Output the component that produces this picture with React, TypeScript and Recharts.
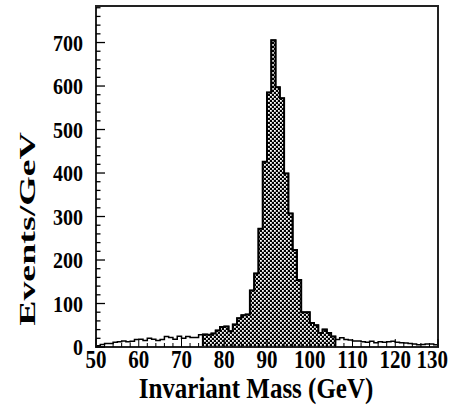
import React from 'react';
import { ComposedChart, Area, XAxis, YAxis, ReferenceArea } from 'recharts';

// Bin lower edges (GeV), 1 GeV bins from 50 to 130
const binEdges: number[] = [
  50, 51, 52, 53, 54, 55, 56, 57, 58, 59,
  60, 61, 62, 63, 64, 65, 66, 67, 68, 69,
  70, 71, 72, 73, 74, 75, 76, 77, 78, 79,
  80, 81, 82, 83, 84, 85, 86, 87, 88, 89,
  90, 91, 92, 93, 94, 95, 96, 97, 98, 99,
  100, 101, 102, 103, 104, 105, 106, 107, 108, 109,
  110, 111, 112, 113, 114, 115, 116, 117, 118, 119,
  120, 121, 122, 123, 124, 125, 126, 127, 128, 129,
];
const upperEdge = 130;

// Events/GeV for every bin (whole histogram)
const allEvents: number[] = [
  3, 6, 8, 8, 11, 12, 14, 12, 13, 17,
  18, 15, 20, 18, 15, 17, 24, 22, 18, 25,
  20, 24, 22, 22, 28, 29, 28, 31, 38, 46,
  47, 36, 52, 66, 73, 75, 130, 169, 272, 426,
  585, 705, 597, 572, 399, 307, 223, 154, 80, 80,
  55, 50, 32, 40, 32, 24, 17, 21, 17, 16,
  14, 14, 12, 11, 13, 10, 12, 11, 12, 13,
  11, 10, 9, 8, 7, 5, 6, 7, 7, 5,
];

// Selected (hatched) window
const windowLow = 75;
const windowHigh = 106;

const xMajorTicks: number[] = [50, 60, 70, 80, 90, 100, 110, 120, 130];
const xAllTicks: number[] = [
  50, 52, 54, 56, 58, 60, 62, 64, 66, 68, 70, 72, 74, 76, 78, 80, 82, 84, 86, 88,
  90, 92, 94, 96, 98, 100, 102, 104, 106, 108, 110, 112, 114, 116, 118, 120, 122,
  124, 126, 128, 130,
];
const yMajorTicks: number[] = [0, 100, 200, 300, 400, 500, 600, 700];
const yAllTicks: number[] = [
  0, 20, 40, 60, 80, 100, 120, 140, 160, 180, 200, 220, 240, 260, 280, 300, 320,
  340, 360, 380, 400, 420, 440, 460, 480, 500, 520, 540, 560, 580, 600, 620, 640,
  660, 680, 700, 720, 740, 760, 780,
];
const yMax = 784;

const FONT = '"Liberation Serif", "Times New Roman", serif';

// step data for the total histogram
const totalData = [
  ...binEdges.map((x, i) => ({ x, v: allEvents[i] })),
  { x: upperEdge, v: allEvents[allEvents.length - 1] },
];

// step data for the hatched window (with vertical closing edges)
const sigData = (() => {
  const pts: { x: number; v: number }[] = [{ x: windowLow, v: 0 }];
  binEdges.forEach((x, i) => {
    if (x >= windowLow && x < windowHigh) pts.push({ x, v: allEvents[i] });
  });
  const lastIdx = binEdges.indexOf(windowHigh - 1);
  pts.push({ x: windowHigh, v: allEvents[lastIdx] });
  pts.push({ x: windowHigh, v: 0 });
  return pts;
})();

const XTick = (props: any) => {
  const { x, y, payload } = props;
  const v = payload.value as number;
  const major = xMajorTicks.includes(v);
  const last = v === xMajorTicks[xMajorTicks.length - 1];
  return (
    <g>
      <line x1={x} x2={x} y1={y} y2={y - (major ? 8 : 4)} stroke="#000" strokeWidth={1} />
      {major && (
        <text
          x={0}
          y={0}
          transform={`translate(${last ? x + 10 : x},${y + 21}) scale(1,1.15)`}
          textAnchor={last ? 'end' : 'middle'}
          fontFamily={FONT}
          fontWeight="bold"
          fontSize={21}
          fill="#000"
        >
          {v}
        </text>
      )}
    </g>
  );
};

const YTick = (props: any) => {
  const { x, y, payload } = props;
  const v = payload.value as number;
  const major = yMajorTicks.includes(v);
  return (
    <g>
      <line x1={x} x2={x + (major ? 9 : 4.5)} y1={y} y2={y} stroke="#000" strokeWidth={1.3} />
      {major && (
        <text
          x={0}
          y={7}
          transform={`translate(${x - 13},${y}) scale(1,1.2)`}
          textAnchor="end"
          fontFamily={FONT}
          fontWeight="bold"
          fontSize={20}
          fill="#000"
        >
          {v}
        </text>
      )}
    </g>
  );
};

const XTitle = () => (
  <text
    x={0}
    y={0}
    transform="translate(256,398) scale(1,1.22)"
    textAnchor="middle"
    fontFamily={FONT}
    fontWeight="bold"
    fontSize={25}
    fill="#000"
  >
    Invariant Mass (GeV)
  </text>
);

const YTitle = () => (
  <text
    x={0}
    y={0}
    transform="translate(35,229) scale(1,1.58) rotate(-90)"
    textAnchor="middle"
    fontFamily={FONT}
    fontWeight="bold"
    fontSize={24}
    fill="#000"
  >
    Events/GeV
  </text>
);

export default function App() {
  return (
    <div style={{ position: 'absolute', left: 0, top: 0, width: 451, height: 406, background: '#fff' }}>
      <svg width={0} height={0} style={{ position: 'absolute' }}>
        <defs>
          <pattern id="xhatch" width={4} height={4} patternUnits="userSpaceOnUse">
            <rect x={0} y={0} width={4} height={4} fill="#000" />
            <rect x={0} y={0} width={1.8} height={1.8} fill="#fff" />
            <rect x={2} y={2} width={1.8} height={1.8} fill="#fff" />
          </pattern>
        </defs>
      </svg>
      <ComposedChart width={451} height={406} margin={{ top: 6, right: 13, left: 0, bottom: 0 }}>
        <XAxis
          dataKey="x"
          type="number"
          domain={[50, 130]}
          ticks={xAllTicks}
          interval={0}
          allowDataOverflow
          height={59}
          tickSize={0}
          tickMargin={0}
          axisLine={false}
          tickLine={false}
          tick={<XTick />}
          label={{ content: () => <XTitle /> }}
        />
        <YAxis
          type="number"
          domain={[0, yMax]}
          ticks={yAllTicks}
          interval={0}
          allowDataOverflow
          width={96}
          tickSize={0}
          tickMargin={0}
          axisLine={false}
          tickLine={false}
          tick={<YTick />}
          label={{ content: () => <YTitle /> }}
        />
        <Area
          data={totalData}
          dataKey="v"
          type="stepAfter"
          stroke="#000"
          strokeWidth={1.5}
          fill="#fff"
          fillOpacity={0}
          dot={false}
          activeDot={false}
          isAnimationActive={false}
        />
        <Area
          data={sigData}
          dataKey="v"
          type="stepAfter"
          stroke="#000"
          strokeWidth={2}
          fill="url(#xhatch)"
          fillOpacity={1}
          dot={false}
          activeDot={false}
          isAnimationActive={false}
        />
        <ReferenceArea x1={50} x2={130} y1={0} y2={yMax} fill="none" stroke="#222" strokeWidth={2} ifOverflow="visible" />
      </ComposedChart>
    </div>
  );
}
